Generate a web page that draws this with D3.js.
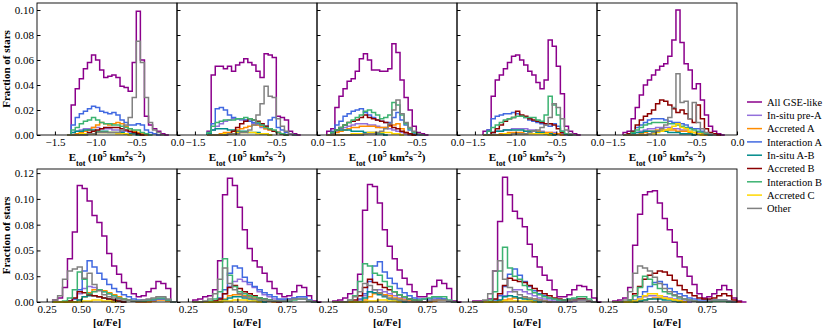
<!DOCTYPE html>
<html>
<head>
<meta charset="utf-8">
<script src="https://cdn.jsdelivr.net/npm/d3@7"></script>
<style>
  body { margin: 0; background: #fff; }
  svg text { font-family: "Liberation Serif", "DejaVu Serif", serif; fill: #000; }
</style>
</head>
<body>
<svg id="fig" width="830" height="330"></svg>
<script>
// series, in drawing / legend order
var seriesNames = ["All GSE-like", "In-situ pre-A", "Accreted A", "Interaction A", "In-situ A-B",
                   "Accreted B", "Interaction B", "Accreted C", "Other"];
var seriesColors = ["#8b008b", "#9370db", "#ff8c00", "#4169e1", "#008b8b",
                    "#8b0000", "#3cb371", "#ffd700", "#808080"];

// ---- top row: E_tot histograms, bin width 0.05, first bin edge per panel
// heights are fraction of stars x 1e-3
var eStart = [-1.35, -1.35, -1.60, -1.40, -1.40];
var eWidth = 0.05;
var etotGSE = [
  [0,24,37,45,53,58,64,60,52,46,47,48,46,39,38,35,58,99,60,15,8,5,3,1,0],
  [3,48,55,55,53,55,51,56,58,61,58,56,51,46,65,64,62,15,14,12,3,1,0],
  [3,5,22,31,37,43,45,51,61,65,60,52,52,51,51,53,73,66,44,30,20,7,2,1,0],
  [3,4,31,44,48,53,58,63,64,60,56,51,48,42,37,44,76,71,55,33,7,3,1,0],
  [2,3,13,22,32,40,44,48,52,55,57,63,76,100,74,57,52,37,41,28,16,7,3,1,0]
];
var etotPreA = [
  [0,2,3,4,5,5,6,6,5,5,5,4,4,3,3,2,2,1,1,0],
  [0,4,7,9,11,12,13,13,12,12,11,9,8,6,5,4,3,2,1,0],
  [0,1,3,5,6,7,8,9,9,9,8,8,7,6,6,5,4,3,2,1,0],
  [0,0,2,3,3,4,4,5,5,5,5,4,4,3,3,2,2,2,1,1,0],
  [0,0,1,2,3,4,5,5,6,6,6,6,5,5,4,4,3,2,2,1,1,0]
];
var etotAccA = [
  [0,0,1,2,3,4,6,8,10,9,8,9,10,9,7,5,3,2,1,0],
  [0,0,0,1,2,2,3,4,5,6,7,8,8,7,5,4,3,2,1,0],
  [0,0,2,3,4,5,6,6,7,7,7,7,6,6,6,7,8,9,5,2,1,0],
  [0,0,0,0,1,1,2,2,2,2,3,3,3,3,2,2,2,1,1,0],
  [0,0,0,0,1,2,3,3,4,4,4,4,4,3,3,3,2,2,1,1,0]
];
var etotIntA = [
  [0,8,14,17,19,21,23,22,19,18,17,18,16,12,10,8,8,9,8,4,2,1,0],
  [2,9,21,22,20,16,14,13,13,12,11,10,9,8,7,12,14,6,4,2,1,0],
  [0,3,8,11,15,17,19,20,21,18,16,14,12,11,10,10,14,18,12,8,4,1,0],
  [0,4,13,15,16,17,17,18,17,15,14,12,11,10,9,8,7,9,7,3,1,0],
  [0,0,3,6,8,10,12,13,13,13,12,11,10,10,9,8,6,5,5,3,1,0]
];
var etotInsAB = [
  [0,2,3,3,4,4,4,3,3,3,2,2,2,2,1,1,1,0],
  [1,4,5,5,5,4,4,3,3,3,2,2,2,1,1,0],
  [0,2,4,4,4,4,3,3,3,2,2,2,1,1,0],
  [0,0,2,3,3,4,4,4,4,4,3,3,3,2,2,1,1,0],
  [0,0,1,2,2,3,3,3,3,3,3,2,2,2,1,1,1,0]
];
var etotAccB = [
  [0,0,0,1,1,2,3,4,5,6,6,6,6,5,4,3,2,1,0],
  [0,0,0,0,0,1,3,6,9,11,13,12,11,9,7,5,3,2,1,0],
  [0,2,4,6,8,10,11,12,14,16,14,13,12,11,10,8,6,5,3,2,1,0],
  [0,0,2,5,8,11,13,14,19,16,15,13,12,11,10,9,9,8,5,2,1,0],
  [0,1,3,8,12,15,17,20,25,28,27,24,21,18,20,17,13,10,24,13,5,2,1,0]
];
var etotIntB = [
  [0,4,6,9,11,12,14,12,10,9,9,8,8,7,6,5,4,4,2,1,0],
  [2,7,10,11,12,12,12,13,13,14,13,12,10,8,6,5,4,2,1,0],
  [0,2,4,6,8,10,12,14,16,19,20,18,16,13,14,16,26,24,16,9,5,2,1,0],
  [0,3,6,8,10,12,13,14,15,15,14,14,14,12,11,16,31,24,16,3,1,0],
  [0,0,2,4,6,8,9,10,10,10,10,9,9,8,7,6,5,4,3,2,1,0]
];
var etotAccC = [
  [0,0,0,1,1,1,1,2,2,2,2,2,1,1,1,0],
  [0,0,0,0,1,1,1,2,2,2,2,2,1,1,1,0],
  [0,0,0,0,0,0,1,1,1,1,2,2,2,2,2,2,1,1,0],
  [0,0,0,0,0,1,1,1,1,1,1,1,1,1,1,1,0],
  [0,0,0,0,0,0,1,1,2,3,4,5,7,9,6,5,3,2,1,0]
];
var etotOther = [
  [0,0,0,0,0,1,1,2,2,2,2,2,2,4,8,14,30,75,58,30,10,4,2,0],
  [0,0,0,0,0,1,1,1,2,2,4,8,16,25,39,31,30,13,7,3,1,0],
  [0,0,0,0,0,0,0,0,0,1,1,1,2,3,5,9,20,28,17,10,6,3,1,0],
  [0,0,0,0,0,0,0,1,1,1,1,2,3,4,6,8,14,25,22,13,4,1,0],
  [0,0,0,0,0,0,1,2,3,5,8,14,22,49,26,27,13,26,10,5,2,1,0]
];

// ---- bottom row: [alpha/Fe] histograms (first panel has its own x range)
var aStart = [0.294, 0.275, 0.275, 0.275, 0.275];
var aWidth = [0.036, 0.025, 0.025, 0.025, 0.025];
var alphaGSE = [
  [2,4,14,42,68,113,110,98,84,77,64,47,35,27,19,13,8,5,6,10,13,20,18,13,0],
  [2,3,5,6,12,40,104,120,113,92,70,52,40,34,28,20,13,8,5,6,10,16,14,6,1,0],
  [1,2,4,8,12,27,89,114,112,96,70,54,42,31,23,17,10,5,5,8,15,21,18,13,1,0],
  [1,1,1,3,30,78,121,104,88,81,73,56,44,34,26,21,12,5,5,7,12,16,15,12,4,0],
  [1,2,4,14,55,85,104,107,108,96,81,70,58,44,34,25,17,8,4,5,8,12,16,12,4,1,0]
];
var alphaPreA = [
  [0,0,0,0,3,8,13,15,14,12,10,8,6,4,3,2,1,0,0,1,2,3,3,2,0],
  [0,0,0,0,0,3,8,15,20,22,20,17,14,10,7,5,3,2,2,3,4,5,5,2,0],
  [0,0,0,0,0,2,6,10,12,12,10,8,6,4,3,2,1,0,0,1,2,3,3,1,0],
  [0,0,0,0,0,2,6,10,12,12,10,8,6,4,3,2,1,0,0,0,1,2,2,1,0],
  [0,0,0,0,1,3,5,6,6,6,5,4,3,2,1,0]
];
var alphaAccA = [
  [0,0,0,0,0,2,5,9,12,12,11,9,7,5,3,2,1,0,0,0,1,2,2,1,0],
  [0,0,0,0,0,1,3,6,7,7,6,5,4,3,2,1,0],
  [0,0,0,0,0,0,2,5,8,8,7,6,4,3,2,1,0,0,0,0,1,2,2,1,0],
  [0,0,0,0,0,1,2,3,4,4,4,3,3,2,1,0],
  [0,0,0,0,0,1,2,3,4,4,3,3,2,1,0]
];
var alphaIntA = [
  [0,0,0,1,3,12,30,40,34,28,22,17,13,10,7,5,3,2,2,2,2,3,3,2,0],
  [0,0,0,0,1,4,12,28,35,33,24,19,15,12,9,7,5,3,3,3,4,5,5,2,0],
  [0,0,0,0,0,3,8,20,35,39,29,23,18,13,9,6,4,3,3,3,4,4,3,1,0],
  [0,0,0,0,2,6,15,27,32,26,20,15,11,8,6,4,3,2,2,3,3,3,3,1,0],
  [0,0,0,0,2,5,10,15,19,20,17,13,10,8,6,4,3,2,2,2,2,2,2,1,0]
];
var alphaInsAB = [
  [0,0,0,0,0,2,5,6,6,5,4,3,2,1,0],
  [0,0,0,0,0,0,2,4,5,5,4,3,2,1,0],
  [0,0,0,0,0,0,4,10,9,7,5,3,2,1,0],
  [0,0,0,0,0,2,5,6,5,4,3,2,1,0],
  [0,0,0,0,0,1,2,3,3,3,2,2,1,0]
];
var alphaAccB = [
  [0,0,0,1,4,10,9,7,6,5,4,3,2,1,0],
  [0,0,0,0,1,3,8,14,16,13,10,8,6,4,3,2,1,0],
  [0,0,0,0,2,6,14,22,19,17,14,12,10,7,5,3,2,1,0],
  [0,0,0,0,3,8,16,23,21,20,19,16,13,11,8,6,4,3,2,2,2,3,3,1,0],
  [0,0,0,2,8,15,22,26,28,30,29,26,21,16,12,9,6,4,3,3,4,6,8,6,2,0]
];
var alphaIntB = [
  [0,0,1,4,12,29,22,8,10,12,10,8,6,4,3,2,1,1,1,2,3,4,4,2,0],
  [0,0,0,1,3,10,42,26,15,10,8,6,5,4,3,2,1,1,1,1,2,3,3,1,0],
  [0,0,0,2,6,20,37,35,28,26,20,15,10,7,5,3,2,2,3,4,5,5,5,2,0],
  [0,0,0,2,10,30,53,33,25,22,16,12,9,7,5,4,3,2,2,3,4,5,5,3,0],
  [0,0,0,2,6,14,25,22,17,13,10,8,6,4,3,2,1,0,0,0,1,1,1,0]
];
var alphaAccC = [
  [0,0,0,0,0,0,1,1,2,2,1,1,0],
  [0,0,0,0,0,0,1,1,2,2,2,1,1,0],
  [0,0,0,0,0,0,0,1,1,2,2,1,1,0],
  [0,0,0,0,0,0,1,1,1,1,1,1,0],
  [0,0,0,0,1,3,6,8,8,6,4,3,2,1,0]
];
var alphaOther = [
  [2,6,22,30,32,34,23,28,17,11,7,5,4,3,2,2,1,1,2,3,4,5,5,3,0],
  [0,0,1,3,8,22,33,18,12,8,5,4,3,2,2,1,1,1,1,2,3,3,3,1,0],
  [0,0,0,2,5,10,18,16,12,9,6,4,3,2,1,0,0,0,0,1,2,2,2,1,0],
  [0,0,2,8,30,40,22,14,10,7,5,4,3,2,1,0,0,0,0,1,2,2,2,1,0],
  [0,0,2,10,28,35,33,30,24,18,13,10,7,5,3,2,1,0,0,1,2,2,2,1,0]
];

// axis ranges and ticks
var eXDomain = [-1.72, 0.0];
var eXTicks = [-1.5, -1.0, -0.5, 0.0];
var eXTickLabels = ["\u22121.5", "\u22121.0", "\u22120.5", "0.0"];
var eYTicks = [0, 20, 40, 60, 80, 100];
var eYTickLabels = ["0.00", "0.02", "0.04", "0.06", "0.08", "0.10"];
var aXDomains = [[0.179, 1.204], [0.195, 0.902], [0.195, 0.902], [0.195, 0.902], [0.195, 0.902]];
var aXTicks = [0.25, 0.50, 0.75];
var aXTickLabels = ["0.25", "0.50", "0.75"];
var aYTicks = [0, 25, 50, 75, 100, 125];
var aYTickLabels = ["0.00", "0.03", "0.05", "0.08", "0.10", "0.12"];

var svg = d3.select("#fig");
var panelLeft = [37, 177, 317, 457, 597], panelW = 140;

var rows = [
  { top: 3, bottom: 135, yMax: 105.6, yTicks: eYTicks, yLabels: eYTickLabels,
    xDomain: function(p){ return eXDomain; }, xTicks: eXTicks, xLabels: eXTickLabels,
    start: eStart, width: function(p){ return eWidth; },
    data: [etotGSE, etotPreA, etotAccA, etotIntA, etotInsAB, etotAccB, etotIntB, etotAccC, etotOther],
    xlabel: "etot", labelGap: 26 },
  { top: 169, bottom: 302, yMax: 129, yTicks: aYTicks, yLabels: aYTickLabels,
    xDomain: function(p){ return aXDomains[p]; }, xTicks: aXTicks, xLabels: aXTickLabels,
    start: aStart, width: function(p){ return aWidth[p]; },
    data: [alphaGSE, alphaPreA, alphaAccA, alphaIntA, alphaInsAB, alphaAccB, alphaIntB, alphaAccC, alphaOther],
    xlabel: "alpha", labelGap: 24 }
];

//turn bin heights into a closed step outline
function stepPoints(hist, start, w) {
  var pts = [[start, 0]];
  hist.forEach(function(h, i) {
    pts.push([start + i * w, h]);
    pts.push([start + (i + 1) * w, h]);
  });
  pts.push([start + hist.length * w, 0]);
  return pts;
}

rows.forEach(function(row) {
  var y = d3.scaleLinear().domain([0, row.yMax]).range([row.bottom, row.top]);

  panelLeft.forEach(function(left, p) {
    var x = d3.scaleLinear().domain(row.xDomain(p)).range([left, left + panelW]);
    var g = svg.append("g");

    var line = d3.line()
      .x(function(d) { return x(d[0]); })
      .y(function(d) { return y(d[1]); });

    row.data.forEach(function(series, s) {
      g.append("path")
        .attr("d", line(stepPoints(series[p], row.start[p], row.width(p))))
        .attr("fill", "none")
        .attr("stroke", seriesColors[s])
        .attr("stroke-width", 1.5)
        .attr("stroke-linejoin", "miter");
    });

    // x axis, ticks pointing in
    var xAxis = d3.axisBottom(x)
      .tickValues(row.xTicks)
      .tickSizeInner(-3.5).tickSizeOuter(0).tickPadding(3)
      .tickFormat(function(d, i) { return row.xLabels[i]; });
    var gx = g.append("g").attr("transform", "translate(0," + row.bottom + ")").call(xAxis);
    gx.select(".domain").remove();
    gx.selectAll("text").attr("font-size", 11).attr("font-family", "Liberation Serif");

    var yAxis = d3.axisLeft(y)
      .tickValues(row.yTicks)
      .tickSizeInner(-3.5).tickSizeOuter(0).tickPadding(3)
      .tickFormat(function(d, i) { return p === 0 ? row.yLabels[i] : ""; });
    var gy = g.append("g").attr("transform", "translate(" + left + ",0)").call(yAxis);
    gy.select(".domain").remove();
    gy.selectAll("text").attr("font-size", 11).attr("font-family", "Liberation Serif");

    // frame
    g.append("rect")
      .attr("x", left).attr("y", row.top)
      .attr("width", panelW).attr("height", row.bottom - row.top)
      .attr("fill", "none").attr("stroke", "#000").attr("stroke-width", 0.9);

    // x label
    var lab = g.append("text")
      .attr("x", left + panelW / 2).attr("y", row.bottom + row.labelGap)
      .attr("text-anchor", "middle").attr("font-weight", "bold").attr("font-size", 11);
    if (row.xlabel === "etot") {
      lab.append("tspan").text("E");
      lab.append("tspan").attr("baseline-shift", "sub").attr("font-size", 8).text("tot");
      lab.append("tspan").text(" (10");
      lab.append("tspan").attr("baseline-shift", "super").attr("font-size", 8).text("5");
      lab.append("tspan").text(" km");
      lab.append("tspan").attr("baseline-shift", "super").attr("font-size", 8).text("2");
      lab.append("tspan").text("s");
      lab.append("tspan").attr("baseline-shift", "super").attr("font-size", 8).text("\u22122");
      lab.append("tspan").text(")");
    } else {
      lab.text("[\u03b1/Fe]");
    }
  });

  // y label
  svg.append("text")
    .attr("transform", "translate(10," + ((row.top + row.bottom) / 2) + ") rotate(-90)")
    .attr("text-anchor", "middle").attr("font-weight", "bold").attr("font-size", 11)
    .text("Fraction of stars");
});

// legend
var legend = svg.append("g");
seriesNames.forEach(function(name, i) {
  var ly = 102 + i * 13.3;
  legend.append("line")
    .attr("x1", 747).attr("x2", 762).attr("y1", ly).attr("y2", ly)
    .attr("stroke", seriesColors[i]).attr("stroke-width", 1.5);
  legend.append("text")
    .attr("x", 767).attr("y", ly + 3.8)
    .attr("font-size", 10.5)
    .text(name);
});
</script>
</body>
</html>
